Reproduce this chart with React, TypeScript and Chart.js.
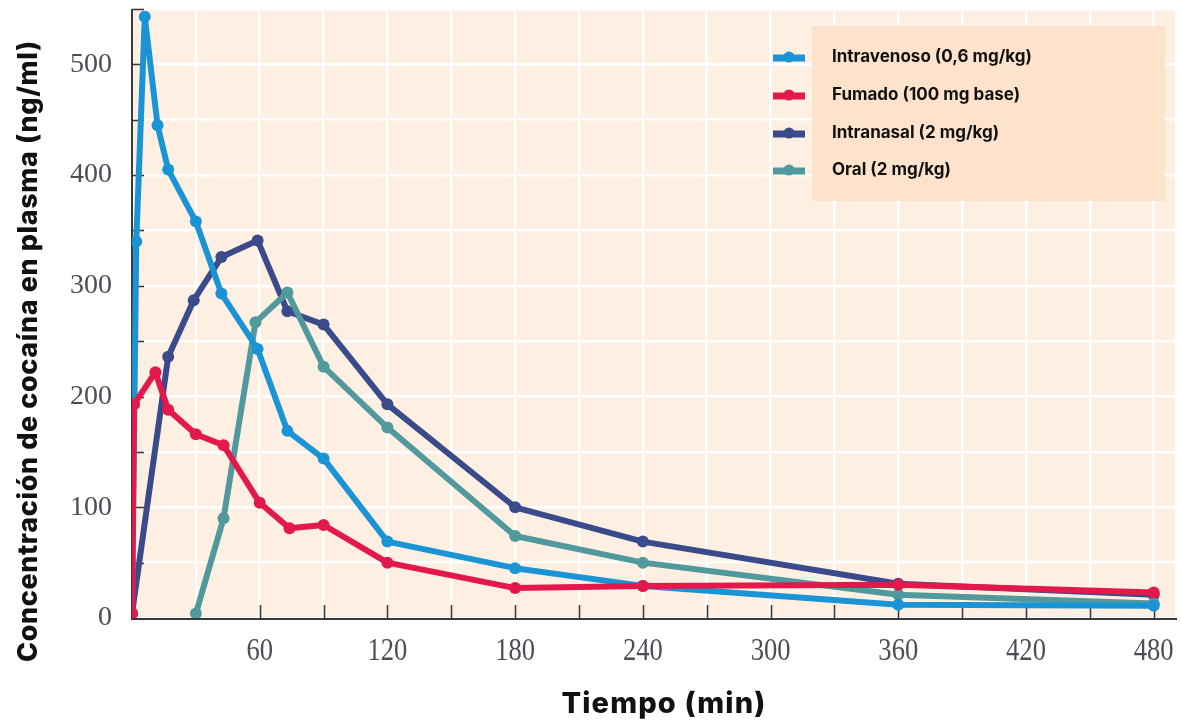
import React, { useEffect, useRef } from "react";
import { Chart, registerables } from "chart.js";

Chart.register(...registerables);

// ---------- data ----------
const seriesLabels = [
  "Intravenoso (0,6 mg/kg)",
  "Fumado (100 mg base)",
  "Intranasal (2 mg/kg)",
  "Oral (2 mg/kg)",
];
const seriesColors = ["#1b94d6", "#e3194c", "#3b4a8b", "#51999c"];

const ivTimes = [0, 2, 6, 12, 17, 30, 42, 59, 73, 90, 120, 180, 240, 360, 480];
const ivValues = [4, 340, 543, 445, 405, 358, 293, 243, 169, 144, 69, 45, 29, 12, 11];

const smokedTimes = [0, 1, 11, 17, 30, 43, 60, 74, 90, 120, 180, 240, 360, 480];
const smokedValues = [4, 193, 222, 188, 166, 156, 104, 81, 84, 50, 27, 29, 30, 23];

const nasalTimes = [0, 17, 29, 42, 59, 73, 90, 120, 180, 240, 360, 480];
const nasalValues = [4, 236, 287, 326, 341, 277, 265, 193, 100, 69, 31, 21];

const oralTimes = [30, 43, 58, 73, 90, 120, 180, 240, 360, 480];
const oralValues = [4, 90, 267, 294, 227, 172, 74, 50, 21, 13];

const xTickLabels = [60, 120, 180, 240, 300, 360, 420, 480];
const yTickLabels = [0, 100, 200, 300, 400, 500];

const xTitle = "Tiempo (min)";
const yTitle = "Concentración de cocaína en plasma (ng/ml)";

// ---------- styles ----------
const PLOT_BG = "#fdf0e2";
const LEGEND_BG = "#fde3cb";
const AXIS_COLOR = "#3a3a3a";
const TICK_TEXT = "#4d4d57";
const TITLE_FONT = "Inter, 'Open Sans', sans-serif";

function toPoints(ts: number[], vs: number[]) {
  return ts.map((t, i) => ({ x: t, y: vs[i] }));
}

const seriesData = [
  toPoints(ivTimes, ivValues),
  toPoints(smokedTimes, smokedValues),
  toPoints(nasalTimes, nasalValues),
  toPoints(oralTimes, oralValues),
];
// drawing order: lower order on top
const seriesOrder = [1, 0, 3, 2];

function fitText(ctx: CanvasRenderingContext2D, text: string, size: number, weight: string, target: number) {
  ctx.font = `${weight} ${size}px ${TITLE_FONT}`;
  (ctx as any).letterSpacing = "0px";
  const w = ctx.measureText(text).width;
  const extra = (target - w) / text.length;
  (ctx as any).letterSpacing = `${extra}px`;
}

const decorPlugin = {
  id: "decor",
  beforeDraw(chart: any) {
    const { ctx, chartArea } = chart;
    ctx.save();
    ctx.fillStyle = PLOT_BG;
    ctx.fillRect(chartArea.left, chartArea.top, chartArea.right - chartArea.left, chartArea.bottom - chartArea.top);
    ctx.restore();
  },
  beforeDatasetsDraw(chart: any) {
    const { ctx, chartArea, scales } = chart;
    const xs = scales.x;
    const ys = scales.y;
    ctx.save();
    ctx.strokeStyle = AXIS_COLOR;
    ctx.lineWidth = 1.6;
    for (let v = 30; v <= 480; v += 30) {
      const px = Math.round(xs.getPixelForValue(v)) + 0.5;
      ctx.beginPath();
      ctx.moveTo(px, chartArea.bottom);
      ctx.lineTo(px, chartArea.bottom - 13);
      ctx.stroke();
    }
    for (let v = 50; v <= 550; v += 50) {
      const py = Math.round(ys.getPixelForValue(v)) + 0.5;
      ctx.beginPath();
      ctx.moveTo(chartArea.left, py);
      ctx.lineTo(chartArea.left + 12, py);
      ctx.stroke();
    }
    ctx.lineWidth = 2;
    ctx.beginPath();
    ctx.moveTo(chartArea.left, chartArea.top);
    ctx.lineTo(chartArea.left, chartArea.bottom + 1);
    ctx.lineTo(chartArea.right + 2, chartArea.bottom + 1);
    ctx.stroke();
    ctx.restore();
  },
  afterDraw(chart: any) {
    const { ctx, scales } = chart;
    const xs = scales.x;
    ctx.save();
    ctx.fillStyle = TICK_TEXT;
    ctx.textAlign = "center";
    ctx.textBaseline = "middle";
    ctx.font = "32px 'Liberation Serif', serif";
    xTickLabels.forEach((v) => {
      const px = xs.getPixelForValue(v);
      ctx.save();
      ctx.translate(px, 652);
      ctx.scale(0.83, 1);
      ctx.fillText(String(v), 0, 0);
      ctx.restore();
    });

    ctx.fillStyle = "#111111";
    ctx.textAlign = "center";
    ctx.textBaseline = "middle";
    fitText(ctx, xTitle, 29, "800", 205);
    ctx.fillText(xTitle, 664, 704);

    ctx.save();
    ctx.translate(29, 351);
    ctx.rotate(-Math.PI / 2);
    fitText(ctx, yTitle, 27, "800", 622);
    ctx.fillText(yTitle, 0, 0);
    ctx.restore();
    (ctx as any).letterSpacing = "0px";

    ctx.fillStyle = LEGEND_BG;
    ctx.fillRect(812, 26, 353, 175);
    const rows = [57, 95, 133, 170];
    seriesLabels.forEach((lab, i) => {
      const y = rows[i];
      ctx.strokeStyle = seriesColors[i];
      ctx.fillStyle = seriesColors[i];
      ctx.lineWidth = 7;
      ctx.beginPath();
      ctx.moveTo(773, y + 1);
      ctx.lineTo(805, y + 1);
      ctx.stroke();
      ctx.beginPath();
      ctx.arc(789, y, 5.5, 0, Math.PI * 2);
      ctx.fill();
      ctx.fillStyle = "#111111";
      ctx.textAlign = "left";
      ctx.textBaseline = "middle";
      ctx.font = `700 17px ${TITLE_FONT}`;
      ctx.fillText(lab, 832, y);
    });
    ctx.restore();
  },
};

export default function App() {
  const ref = useRef<HTMLCanvasElement>(null);
  useEffect(() => {
    document.body.style.margin = "0";
    const chart = new Chart(ref.current as HTMLCanvasElement, {
      type: "line",
      data: {
        datasets: seriesLabels.map((label, i) => ({
          label,
          data: seriesData[i],
          borderColor: seriesColors[i],
          backgroundColor: seriesColors[i],
          pointBackgroundColor: seriesColors[i],
          pointBorderColor: seriesColors[i],
          borderWidth: 6,
          pointRadius: 6,
          pointBorderWidth: 0,
          tension: 0,
          order: seriesOrder[i],
          borderJoinStyle: "round" as const,
          borderCapStyle: "round" as const,
        })),
      },
      options: {
        responsive: false,
        animation: false,
        layout: { padding: { top: 9, right: 5, left: 0, bottom: 0 } },
        plugins: { legend: { display: false }, tooltip: { enabled: false } },
        scales: {
          x: {
            type: "linear",
            min: 0,
            max: 490,
            afterFit: (s: any) => {
              s.height = 103;
              s.paddingLeft = 0;
              s.paddingRight = 0;
            },
            ticks: { stepSize: 30, display: false, includeBounds: false },
            grid: { color: "#ffffff", lineWidth: 2.5, drawTicks: false },
            border: { display: false },
          },
          y: {
            type: "linear",
            min: 0,
            max: 550,
            afterFit: (s: any) => {
              s.width = 132;
              s.paddingTop = 0;
              s.paddingBottom = 0;
            },
            ticks: {
              stepSize: 50,
              padding: 20,
              color: TICK_TEXT,
              font: { family: "'Liberation Serif', serif", size: 28 },
              callback: (v: any) => (yTickLabels.includes(Number(v)) ? String(v) : ""),
            },
            grid: { color: "#ffffff", lineWidth: 2.5, drawTicks: false },
            border: { display: false },
          },
        },
      },
      plugins: [decorPlugin],
    });
    return () => chart.destroy();
  }, []);
  return (
    <div style={{ width: 1181, height: 721 }}>
      <canvas ref={ref} width={1181} height={721} style={{ display: "block" }} />
    </div>
  );
}
